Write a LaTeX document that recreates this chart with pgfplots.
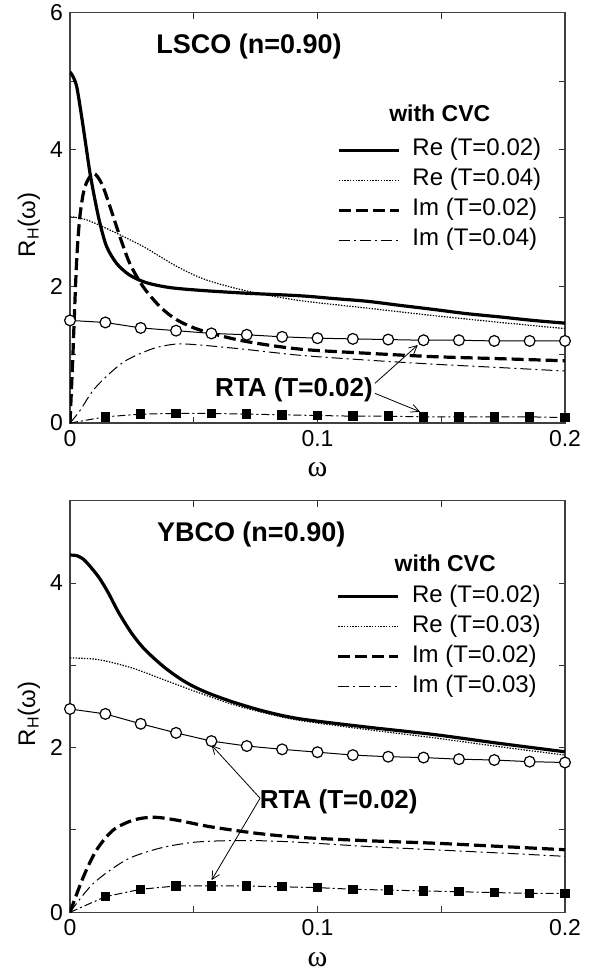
\documentclass[border=0pt]{standalone}
\usepackage{fontspec}
\setmainfont{Liberation Sans}
\newfontfamily\serifgreek{Liberation Serif}
\usepackage{pgfplots}
\pgfplotsset{compat=1.18}
\usetikzlibrary{arrows.meta}
\pgfplotsset{legend image code/.code={\draw[#1] (0pt,0pt) -- (30pt,0pt);}}
\pgfplotsset{
  panel/.style={
    scale only axis, width=247.5pt, height=205.2pt,
    xmin=0, xmax=0.2, ymin=0,
    xtick={0,0.1,0.2}, xticklabels={0,0.1,0.2},
    minor xtick={0.05,0.15},
    tick align=inside,
    major tick length=3pt, minor tick length=3pt,
    tick style={black!80, line width=0.5pt},
    axis line style={black!75, line width=0.6pt},
    ticklabel style={font=\fontsize{11.5}{13}\selectfont},
    /pgf/number format/assume math mode=true,
    xlabel={\fontsize{15}{17}\selectfont\serifgreek ω},
    xlabel style={at={(axis description cs:0.5,0)}, anchor=center, yshift=-23.5pt},
    ylabel={\fontsize{12}{14}\selectfont R\textsubscript{H}(ω)},
    ylabel style={at={(axis description cs:-0.083,0.4825)}, anchor=center},
    legend cell align=left,
    legend style={draw=none, fill=none, inner sep=0pt, outer sep=0pt,
      font=\fontsize{12}{14}\selectfont, row sep=4.5pt,
      nodes={inner sep=0pt, text height=8pt, text depth=2.5pt},
      /tikz/every odd column/.append style={column sep=6pt}},
  },
  reA/.style={black, line width=1.6pt, smooth},
  reB/.style={black, line width=0.6pt, dash pattern=on 0.7pt off 0.7pt, smooth},
  imA/.style={black, line width=1.6pt, dash pattern=on 6pt off 2.5pt, smooth},
  imB/.style={black, line width=0.5pt, dash pattern=on 5.5pt off 2pt on 1pt off 2pt, smooth},
  rtaRe/.style={black, line width=0.5pt, mark=*, mark size=2.7pt, mark options={fill=white, draw=black, line width=0.6pt}},
  rtaIm/.style={black, line width=0.5pt, dash pattern=on 4pt off 1.5pt on 1pt off 1.5pt, mark=square*, mark size=2.1pt, mark options={solid, fill=black}, mark indices={2,3,4,5,6,7,8,9,10,11,12,13,14,15}},
}
\begin{document}
\begin{tikzpicture}
% ---------------- top panel: LSCO ----------------
\begin{axis}[panel, at={(35pt,-211.5pt)}, anchor=south west,
  ymax=6, ytick={0,2,4,6}, yticklabels={0,2,4,6}, minor ytick={1,3,5},
  legend style={at={(axis description cs:0.540,0.6905)}, anchor=north west}]
\addplot[reA] coordinates {(0,5.13) (0.001,5.08) (0.0027,4.92) (0.0047,4.48) (0.0067,3.99) (0.0081,3.65) (0.0101,3.26) (0.0121,2.92) (0.0148,2.58) (0.0189,2.33) (0.0242,2.16) (0.031,2.05) (0.0404,1.98) (0.0525,1.94) (0.07,1.90) (0.093,1.86) (0.1064,1.82) (0.12,1.78) (0.1333,1.72) (0.147,1.66) (0.16,1.60) (0.174,1.55) (0.187,1.50) (0.2,1.46)};
\addlegendentry{Re (T=0.02)}
\addplot[reB] coordinates {(0,3.02) (0.0067,2.97) (0.0162,2.82) (0.0296,2.58) (0.0431,2.29) (0.0552,2.09) (0.0727,1.92) (0.093,1.79) (0.12,1.68) (0.147,1.57) (0.174,1.47) (0.2,1.38)};
\addlegendentry{Re (T=0.04)}
\addplot[imA] coordinates {(0,0) (0.0011,0.92) (0.0016,1.41) (0.0027,2.38) (0.004,3.02) (0.006,3.45) (0.0094,3.65) (0.0128,3.50) (0.0162,3.16) (0.0202,2.72) (0.0242,2.33) (0.0296,1.99) (0.0364,1.70) (0.0431,1.51) (0.0525,1.36) (0.07,1.20) (0.093,1.08) (0.12,1.02) (0.147,0.97) (0.174,0.94) (0.2,0.91)};
\addlegendentry{Im (T=0.02)}
\addplot[imB] coordinates {(0,0) (0.004,0.18) (0.0094,0.48) (0.0162,0.73) (0.0229,0.92) (0.0337,1.09) (0.0431,1.155) (0.0525,1.14) (0.07,1.08) (0.093,0.99) (0.12,0.92) (0.147,0.86) (0.174,0.81) (0.2,0.76)};
\addlegendentry{Im (T=0.04)}
\addplot[rtaRe, forget plot] coordinates {(0,1.50) (0.014286,1.47) (0.028571,1.39) (0.042857,1.35) (0.057143,1.31) (0.071429,1.29) (0.085714,1.26) (0.1,1.24) (0.114286,1.23) (0.128571,1.22) (0.142857,1.21) (0.157143,1.21) (0.171429,1.20) (0.185714,1.20) (0.2,1.20)};
\addplot[rtaIm, forget plot] coordinates {(0,0) (0.014286,0.09) (0.028571,0.13) (0.042857,0.14) (0.057143,0.14) (0.071429,0.13) (0.085714,0.12) (0.1,0.11) (0.114286,0.10) (0.128571,0.10) (0.142857,0.09) (0.157143,0.09) (0.171429,0.09) (0.185714,0.09) (0.2,0.08)};
\node[font=\fontsize{13.5}{15}\selectfont\bfseries] at (axis description cs:0.3616,0.9175) {LSCO (n=0.90)};
\node[font=\fontsize{11.5}{13}\selectfont\bfseries] at (axis description cs:0.747,0.755) {with CVC};
\node[font=\fontsize{13}{15}\selectfont\bfseries] at (axis description cs:0.4525,0.080) {RTA (T=0.02)};
\draw[-{Straight Barb[length=4pt,width=4pt]}, line width=0.4pt] (axis cs:0.1232,0.58) -- (axis cs:0.1405,1.14);
\draw[-{Straight Barb[length=4pt,width=4pt]}, line width=0.4pt] (axis cs:0.1232,0.434) -- (axis cs:0.1414,0.165);
\end{axis}
% ---------------- bottom panel: YBCO ----------------
\begin{axis}[panel, at={(35pt,-456.15pt)}, anchor=south west, height=205.8pt,
  ymax=5, ytick={0,2,4}, yticklabels={0,2,4}, minor ytick={1,3,5},
  legend style={at={(axis description cs:0.539,0.792)}, anchor=north west}]
\addplot[reA] coordinates {(0,4.34) (0.003,4.33) (0.0061,4.27) (0.0114,4.08) (0.0155,3.88) (0.0195,3.65) (0.0249,3.39) (0.0303,3.19) (0.0384,2.97) (0.0465,2.80) (0.0545,2.68) (0.0653,2.56) (0.0788,2.44) (0.093,2.35) (0.12,2.25) (0.147,2.16) (0.174,2.05) (0.2,1.95)};
\addlegendentry{Re (T=0.02)}
\addplot[reB] coordinates {(0,3.09) (0.0114,3.07) (0.0249,2.97) (0.0384,2.82) (0.0518,2.67) (0.0653,2.53) (0.0788,2.42) (0.093,2.33) (0.12,2.22) (0.147,2.12) (0.174,2.01) (0.2,1.91)};
\addlegendentry{Re (T=0.03)}
\addplot[imA] coordinates {(0,0) (0.0054,0.43) (0.0108,0.76) (0.0175,1.00) (0.0256,1.12) (0.0337,1.155) (0.0431,1.12) (0.0566,1.04) (0.0754,0.96) (0.093,0.91) (0.12,0.87) (0.147,0.84) (0.174,0.80) (0.2,0.76)};
\addlegendentry{Im (T=0.02)}
\addplot[imB] coordinates {(0,0) (0.0094,0.35) (0.0229,0.64) (0.0364,0.78) (0.0498,0.85) (0.0633,0.87) (0.0768,0.87) (0.093,0.85) (0.12,0.80) (0.147,0.76) (0.174,0.72) (0.2,0.68)};
\addlegendentry{Im (T=0.03)}
\addplot[rtaRe, forget plot] coordinates {(0,2.47) (0.014286,2.41) (0.028571,2.29) (0.042857,2.18) (0.057143,2.08) (0.071429,2.02) (0.085714,1.98) (0.1,1.945) (0.114286,1.91) (0.128571,1.89) (0.142857,1.88) (0.157143,1.86) (0.171429,1.85) (0.185714,1.83) (0.2,1.82)};
\addplot[rtaIm, forget plot] coordinates {(0,0) (0.014286,0.19) (0.028571,0.28) (0.042857,0.32) (0.057143,0.32) (0.071429,0.32) (0.085714,0.31) (0.1,0.30) (0.114286,0.28) (0.128571,0.27) (0.142857,0.26) (0.157143,0.25) (0.171429,0.24) (0.185714,0.23) (0.2,0.23)};
\node[font=\fontsize{13.5}{15}\selectfont\bfseries] at (axis description cs:0.366,0.917) {YBCO (n=0.90)};
\node[font=\fontsize{11.5}{13}\selectfont\bfseries] at (axis description cs:0.758,0.848) {with CVC};
\node[font=\fontsize{13}{15}\selectfont\bfseries] at (axis description cs:0.543,0.268) {RTA (T=0.02)};
\draw[-{Straight Barb[length=4pt,width=4pt]}, line width=0.4pt] (axis cs:0.0768,1.386) -- (axis cs:0.0572,2.03);
\draw[-{Straight Barb[length=4pt,width=4pt]}, line width=0.4pt] (axis cs:0.0768,1.386) -- (axis cs:0.0572,0.39);
\end{axis}
\pgfresetboundingbox
\useasboundingbox (0pt,0pt) rectangle (302pt,-485.5pt);
\end{tikzpicture}
\end{document}
